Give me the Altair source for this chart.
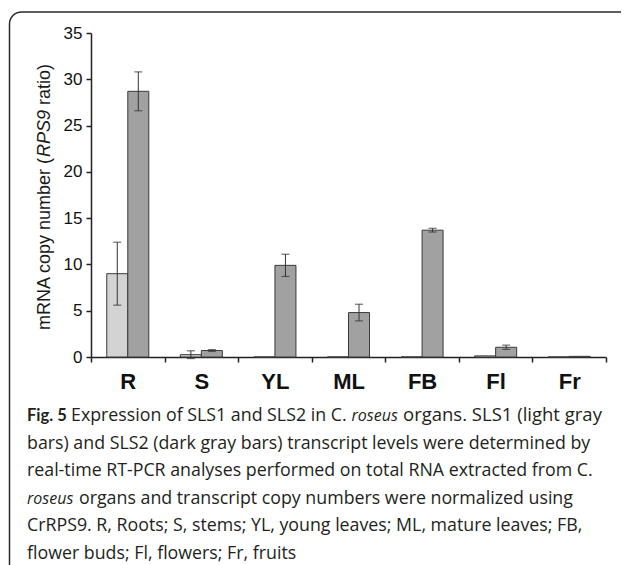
import altair as alt
import pandas as pd

# ---------------- data ----------------
organs = ["R", "S", "YL", "ML", "FB", "Fl", "Fr"]
genes = ["SLS1", "SLS2"]
sls1 = [9.0, 0.25, 0.0, 0.0, 0.0, 0.12, 0.0]
sls1_err = [3.4, 0.42, 0.0, 0.0, 0.0, 0.0, 0.0]
sls2 = [28.7, 0.7, 9.9, 4.8, 13.7, 1.05, 0.07]
sls2_err = [2.1, 0.1, 1.2, 0.9, 0.2, 0.23, 0.0]
y_ticks = [0, 5, 10, 15, 20, 25, 30, 35]

rows = []
for i, o in enumerate(organs):
    rows.append({"organ": o, "gene": "SLS1", "value": sls1[i], "err": sls1_err[i]})
    rows.append({"organ": o, "gene": "SLS2", "value": sls2[i], "err": sls2_err[i]})
df = pd.DataFrame(rows)
df["lo"] = df["value"] - df["err"]
df["hi"] = df["value"] + df["err"]

# ---------------- layout (image px -> plot px) ----------------
OX, OY = 91, 33          # plot origin in page pixels
W, H = 515, 324


def px(ix):
    return ix - OX


def py(iy):
    return iy - OY


light, dark = "#d3d3d3", "#a1a1a1"
edge = "#3a3a3a"

x_enc = alt.X(
    "organ:N",
    sort=organs,
    scale=alt.Scale(paddingInner=0, paddingOuter=0),
    axis=alt.Axis(
        title=None, labelAngle=0, tickBand="extent", labelFont="Liberation Sans",
        labelFontSize=22, labelFontWeight="bold", labelColor="#111111",
        labelPadding=9, tickSize=5, tickWidth=1.5, tickColor="#222222",
        domainColor="#222222", domainWidth=1.5,
    ),
)
xo_enc = alt.XOffset("gene:N", sort=genes,
                     scale=alt.Scale(domain=genes, paddingInner=0, paddingOuter=0.75))
y_scale = alt.Scale(domain=[0, 35], nice=False)

base = alt.Chart(df)

bars = base.mark_bar(stroke=edge, strokeWidth=1).encode(
    x=x_enc,
    xOffset=xo_enc,
    y=alt.Y(
        "value:Q", scale=y_scale,
        axis=alt.Axis(
            title=None, values=y_ticks, grid=False, labelFont="Liberation Sans",
            labelFontSize=17, labelColor="#111111", labelPadding=4, tickSize=5,
            tickWidth=1.5, tickColor="#222222", domainColor="#222222", domainWidth=1.5,
        ),
    ),
    color=alt.Color("gene:N", scale=alt.Scale(domain=genes, range=[light, dark]), legend=None),
)

errs = base.transform_filter("datum.err > 0")
err_rule = errs.mark_rule(color="#333333", strokeWidth=1).encode(
    x=alt.X("organ:N", sort=organs), xOffset=alt.XOffset("gene:N", sort=genes),
    y=alt.Y("lo:Q", scale=y_scale), y2="hi:Q",
)
cap_lo = errs.mark_tick(color="#333333", size=8, thickness=1.2).encode(
    x=alt.X("organ:N", sort=organs), xOffset=alt.XOffset("gene:N", sort=genes),
    y=alt.Y("lo:Q", scale=y_scale),
)
cap_hi = errs.mark_tick(color="#333333", size=8, thickness=1.2).encode(
    x=alt.X("organ:N", sort=organs), xOffset=alt.XOffset("gene:N", sort=genes),
    y=alt.Y("hi:Q", scale=y_scale),
)

one = alt.Data(values=[{"k": 1}])
layers = [bars, err_rule, cap_lo, cap_hi]

# y-axis title, with italic RPS9
ytitle = [
    ("mRNA copy number (", 330, "normal", "left"),
    ("RPS9", 157, "italic", "left"),
    ("ratio)", 64, "normal", "right"),
]
for txt, iy, style, al in ytitle:
    layers.append(
        alt.Chart(one).mark_text(
            text=txt, angle=270, align=al, baseline="alphabetic",
            font="Liberation Sans", fontSize=18, fontStyle=style, color="#1a1a1a",
        ).encode(x=alt.value(px(50)), y=alt.value(py(iy)))
    )

# caption: (text, x, line, font, size, style, weight, align)
b0, lh = 421, 27.6
NF, NS = "Open Sans", 17.8
cap_segments = [
    ("Fig. 5", 27, 0, "Lato", 16.5, "normal", "bold", "left"),
    ("Expression of SLS1 and SLS2 in C.", 71, 0, NF, NS, "normal", "normal", "left"),
    ("roseus", 351.5, 0, NF, 16, "italic", "normal", "left"),
    ("organs. SLS1 (light gray", 403, 0, NF, 18.5, "normal", "normal", "left"),
    ("bars) and SLS2 (dark gray bars) transcript levels were determined by", 27, 1, NF, NS, "normal", "normal", "left"),
    ("real-time RT-PCR analyses performed on total RNA extracted from C.", 27, 2, NF, NS, "normal", "normal", "left"),
    ("roseus", 27, 3, NF, 16, "italic", "normal", "left"),
    ("organs and transcript copy numbers were normalized using", 79, 3, NF, NS, "normal", "normal", "left"),
    ("CrRPS9. R, Roots; S, stems; YL, young leaves; ML, mature leaves; FB,", 27, 4, NF, NS, "normal", "normal", "left"),
    ("flower buds; Fl, flowers; Fr, fruits", 27, 5, NF, NS, "normal", "normal", "left"),
]
for txt, ix, line, fnt, fs, style, weight, al in cap_segments:
    layers.append(
        alt.Chart(one).mark_text(
            text=txt, align=al, baseline="alphabetic", font=fnt,
            fontSize=fs, fontStyle=style, fontWeight=weight, color="#231f20",
        ).encode(x=alt.value(px(ix)), y=alt.value(py(b0 + lh * line)))
    )

# rounded frame
layers.append(
    alt.Chart(one).mark_rect(
        fillOpacity=0, stroke="#2a2a2a", strokeWidth=1.5, cornerRadius=12,
    ).encode(
        x=alt.value(px(9.5)), x2=alt.value(px(900)),
        y=alt.value(py(12)), y2=alt.value(py(900)),
    )
)

chart = alt.layer(*layers).properties(
    width=W, height=H,
    padding={"left": OX - 8, "top": OY - 8, "right": 613 - (OX - 8) - W,
             "bottom": 557 - (OY - 8) - H},
    autosize=alt.AutoSizeParams(type="none"),
    background="white",
).configure_view(strokeOpacity=0)

chart.save("out.html", embed_options={"renderer": "svg", "actions": False})
